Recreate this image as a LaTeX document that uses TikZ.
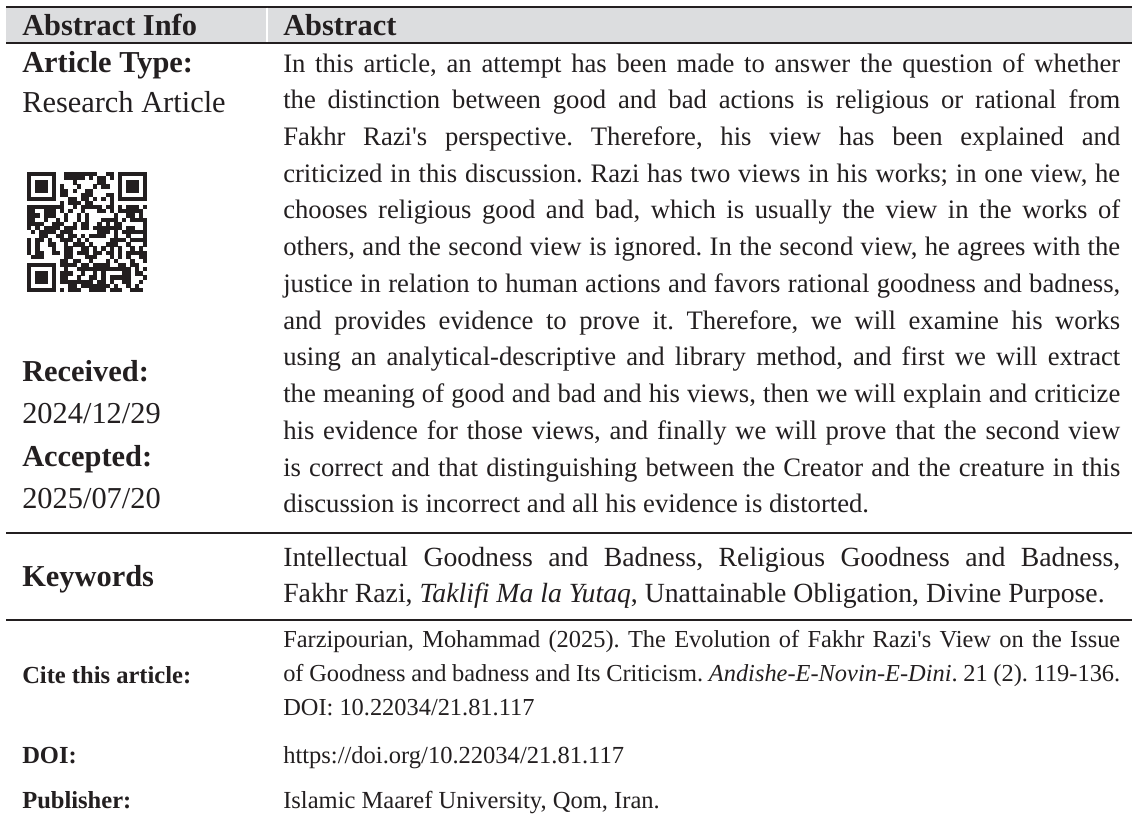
\documentclass[tikz,border=0pt]{standalone}
\usepackage{fontspec}
\setmainfont{Liberation Serif}
\usepackage{tikz}
\definecolor{ink}{HTML}{231F20}
\definecolor{headgray}{HTML}{DCDDDF}
\tolerance=10000
\hbadness=10000
\hyphenpenalty=10000
\frenchspacing

\begin{document}
\begin{tikzpicture}[x=0.75pt, y=-0.75pt,
    infohead/.style={anchor=base west, inner sep=0pt, text=ink, font=\fontsize{22.8}{27}\selectfont\bfseries},
    infotext/.style={anchor=base west, inner sep=0pt, text=ink, font=\fontsize{22.8}{27}\selectfont},
    smallhead/.style={anchor=base west, inner sep=0pt, text=ink, font=\fontsize{18.4}{22}\selectfont\bfseries},
    smalltext/.style={anchor=base west, inner sep=0pt, text=ink, font=\fontsize{18.4}{22}\selectfont},
    para/.style={anchor=base west, inner sep=0pt, text=ink, text width=627.75pt, align=justify},
    tablerule/.style={draw=ink, line width=1.7pt}]

        \useasboundingbox[fill=white] (0,0) rectangle (1132,818);

        % Header bar with its two titles
        \fill[headgray] (6,7) rectangle (1132,42.5);
        \draw[ink, line width=1.1pt] (6,7) -- (1132,7);
        \draw[tablerule, line width=2pt] (6,43) -- (1132,43);
        \draw[white, line width=1.2pt] (267,7.6) -- (267,42);
        \node[infohead] (headinfo) at (22,35) {Abstract Info};
        \node[infohead] (headabs) at (283,35) {Abstract};

        % Left column of the first row
        \node[infohead] (typelbl) at (22,72) {Article Type:};
        \node[infotext] (typeval) at (22,112) {Research Article};
        \node[infohead] (reclbl) at (22,381) {Received:};
        \node[infotext] (recval) at (22,423) {2024/12/29};
        \node[infohead] (acclbl) at (22,466) {Accepted:};
        \node[infotext] (accval) at (22,508) {2025/07/20};

        % QR code
        \pgfmathsetseed{2912}
        \foreach \i in {0,...,28}{
            \foreach \j in {0,...,28}{
                \pgfmathtruncatemacro\skipme{(\i<8 && \j<8) || (\i>20 && \j<8) || (\i<8 && \j>20)}
                \pgfmathtruncatemacro\dark{rnd<0.56}
                \ifnum\skipme=0 \ifnum\dark=1
                    \fill[ink] ({27+\i*4.138},{172+\j*4.138}) rectangle +(4.25,4.25);
                \fi\fi
            }
        }
        \foreach \fx/\fy in {0/0,22/0,0/22}{
            \fill[ink] ({27+\fx*4.138},{172+\fy*4.138}) rectangle +(28.97,28.97);
            \fill[white] ({27+(\fx+1)*4.138},{172+(\fy+1)*4.138}) rectangle +(20.69,20.69);
            \fill[ink] ({27+(\fx+2)*4.138},{172+(\fy+2)*4.138}) rectangle +(12.41,12.41);
        }

        % Abstract text
        \node[para, font=\fontsize{20}{27.56}\selectfont] (abstext) at (283,72) {%
            In this article, an attempt has been made to answer the question of whether\linebreak
            the distinction between good and bad actions is religious or rational from\linebreak
            Fakhr Razi\textquotesingle s perspective. Therefore, his view has been explained and\linebreak
            criticized in this discussion. Razi has two views in his works; in one view, he\linebreak
            chooses religious good and bad, which is usually the view in the works of\linebreak
            others, and the second view is ignored. In the second view, he agrees with the\linebreak
            justice in relation to human actions and favors rational goodness and badness,\linebreak
            and provides evidence to prove it. Therefore, we will examine his works\linebreak
            using an analytical-descriptive and library method, and first we will extract\linebreak
            the meaning of good and bad and his views, then we will explain and criticize\linebreak
            his evidence for those views, and finally we will prove that the second view\linebreak
            is correct and that distinguishing between the Creator and the creature in this\linebreak
            discussion is incorrect and all his evidence is distorted.};

        \draw[tablerule] (6,533) -- (1132,533);

        % Keywords row
        \node[infohead] (keylbl) at (22,586) {Keywords};
        \node[para, font=\fontsize{20.8}{27}\selectfont] (keytext) at (283,566) {%
            Intellectual Goodness and Badness, Religious Goodness and Badness,\linebreak
            Fakhr Razi, \textit{Taklifi Ma la Yutaq}, Unattainable Obligation, Divine Purpose.};

        \draw[tablerule] (6,620) -- (1132,620);

        % Citation, DOI and publisher
        \node[smallhead] (citelbl) at (22,683) {Cite this article:};
        \node[para, font=\fontsize{18.3}{25.5}\selectfont] (citetext) at (283,647) {%
            Farzipourian, Mohammad (2025). The Evolution of Fakhr Razi\textquotesingle s View on the Issue\linebreak
            of Goodness and badness and Its Criticism. \textit{Andishe-E-Novin-E-Dini}. 21 (2). 119-136.\linebreak
            DOI: 10.22034/21.81.117};
        \node[smallhead] (doilbl) at (22,763) {DOI:};
        \node[smalltext] (doival) at (283,763) {https://doi.org/10.22034/21.81.117};
        \node[smallhead] (publbl) at (22,808) {Publisher:};
        \node[smalltext] (pubval) at (283,808) {Islamic Maaref University, Qom, Iran.};
\end{tikzpicture}
\end{document}
